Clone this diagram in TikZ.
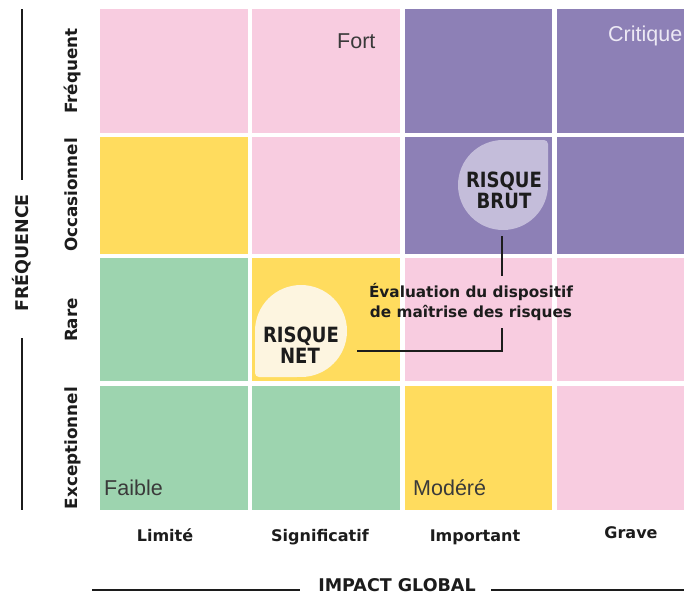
\documentclass[tikz,border=0pt]{standalone}
\usepackage{fontspec}
\setmainfont{DejaVu Sans}
\newfontfamily\zonefont{Liberation Sans}
\newfontfamily\blobfont{DejaVu Sans}[FakeStretch=0.86]
\usetikzlibrary{calc}

\definecolor{cellpink}{HTML}{F8CCE0}
\definecolor{cellpurple}{HTML}{8D80B6}
\definecolor{cellyellow}{HTML}{FFDC5E}
\definecolor{cellgreen}{HTML}{9DD4AF}
\definecolor{blobcream}{HTML}{FDF5E0}
\definecolor{bloblilac}{HTML}{C4BDDA}
\definecolor{ink}{HTML}{1C1C1C}
\definecolor{softink}{HTML}{3A3A3A}
\definecolor{paleink}{HTML}{ECE8F4}

\tikzset{
  rowlab/.style={rotate=90, anchor=base, inner sep=0pt, text=ink,
    font=\bfseries\fontsize{16.8}{20}\selectfont},
  collab/.style={anchor=base, inner sep=0pt, text=ink,
    font=\bfseries\fontsize{16}{19}\selectfont},
  zonelab/.style={anchor=base west, inner sep=0pt,
    font=\zonefont\fontsize{21.5}{25}\selectfont},
  blobtxt/.style={anchor=base, inner sep=0pt, text=ink,
    font=\blobfont\bfseries\fontsize{21}{24}\selectfont},
  evaltxt/.style={anchor=base, inner sep=0pt, text=ink,
    font=\bfseries\fontsize{15.3}{20}\selectfont},
  axistxt/.style={anchor=base, inner sep=0pt, text=ink,
    font=\bfseries\fontsize{17.5}{21}\selectfont},
  link/.style={draw=ink, line width=1.8pt},
  axisline/.style={draw=ink, line width=1.6pt},
  blob/.style={circle, inner sep=0pt},
}

\begin{document}
\begin{tikzpicture}[x=1pt, y=-1pt]
\useasboundingbox (0,0) rectangle (684,592);
\fill[white] (0,0) rectangle (684,592);

% risk matrix cells: row 1 (Fréquent)
\fill[cellpink]   (100,9) rectangle (248,133);
\fill[cellpink]   (252,9) rectangle (400,133);
\fill[cellpurple] (405,9) rectangle (552,133);
\fill[cellpurple] (557,9) rectangle (684,133);
% row 2 (Occasionnel)
\fill[cellyellow] (100,137) rectangle (248,254);
\fill[cellpink]   (252,137) rectangle (400,254);
\fill[cellpurple] (405,137) rectangle (552,254);
\fill[cellpurple] (557,137) rectangle (684,254);
% row 3 (Rare)
\fill[cellgreen]  (100,258) rectangle (248,381);
\fill[cellyellow] (252,258) rectangle (400,381);
\fill[cellpink]   (405,258) rectangle (552,381);
\fill[cellpink]   (557,258) rectangle (684,381);
% row 4 (Exceptionnel)
\fill[cellgreen]  (100,386) rectangle (248,510);
\fill[cellgreen]  (252,386) rectangle (400,510);
\fill[cellyellow] (405,386) rectangle (552,510);
\fill[cellpink]   (557,386) rectangle (684,510);

% zone names
\node[zonelab, text=softink] (fort) at (337,48) {Fort};
\node[zonelab, text=paleink] (critique) at (608,41) {Critique};
\node[zonelab, text=softink] (faible) at (104,495) {Faible};
\node[zonelab, text=softink] (modere) at (413,495) {Modéré};

% gross risk bubble
\node[blob, fill=bloblilac, minimum size=90pt] (brut) at (503,185) {};
\fill[bloblilac, rounded corners=4pt] (brut.center) rectangle ++(45,-45);
\node[blobtxt] (brut1) at (504,187) {RISQUE};
\node[blobtxt] (brut2) at (504,208) {BRUT};

% net risk bubble
\node[blob, fill=blobcream, minimum size=92pt] (net) at (301,331) {};
\fill[blobcream, rounded corners=4pt] (net.center) rectangle ++(-46,46);
\node[blobtxt] (net1) at (301,342) {RISQUE};
\node[blobtxt] (net2) at (300,363) {NET};

% evaluation step
\node[evaltxt] (eval1) at (471,297) {Évaluation du dispositif};
\node[evaltxt] (eval2) at (471,317) {de maîtrise des risques};
\coordinate (evalN) at (502,276);
\coordinate (evalS) at (502,328);
\coordinate (netE) at ($(net.east)+(10,20)$);
\draw[link] ($(brut.south)+(-1,6)$) -- (evalN);
\draw[link] (evalS) |- (netE);

% frequency axis
\node[rowlab] (freq1) at (77,71) {Fréquent};
\node[rowlab] (freq2) at (77,195) {Occasionnel};
\node[rowlab] (freq3) at (77,320) {Rare};
\node[rowlab] (freq4) at (77,448) {Exceptionnel};
\node[axistxt, rotate=90] (freq) at (28,253) {FRÉQUENCE};
\draw[axisline] (22,9) -- (22,180);
\draw[axisline] (22,338) -- (22,510);

% impact axis
\node[collab] (imp1) at (165,541) {Limité};
\node[collab] (imp2) at (320,541) {Significatif};
\node[collab] (imp3) at (475,541) {Important};
\node[collab] (imp4) at (631,538) {Grave};
\node[axistxt] (impact) at (397,591) {IMPACT GLOBAL};
\draw[axisline] (92,590) -- (300,590);
\draw[axisline] (491,590) -- (684,590);
\end{tikzpicture}
\end{document}
